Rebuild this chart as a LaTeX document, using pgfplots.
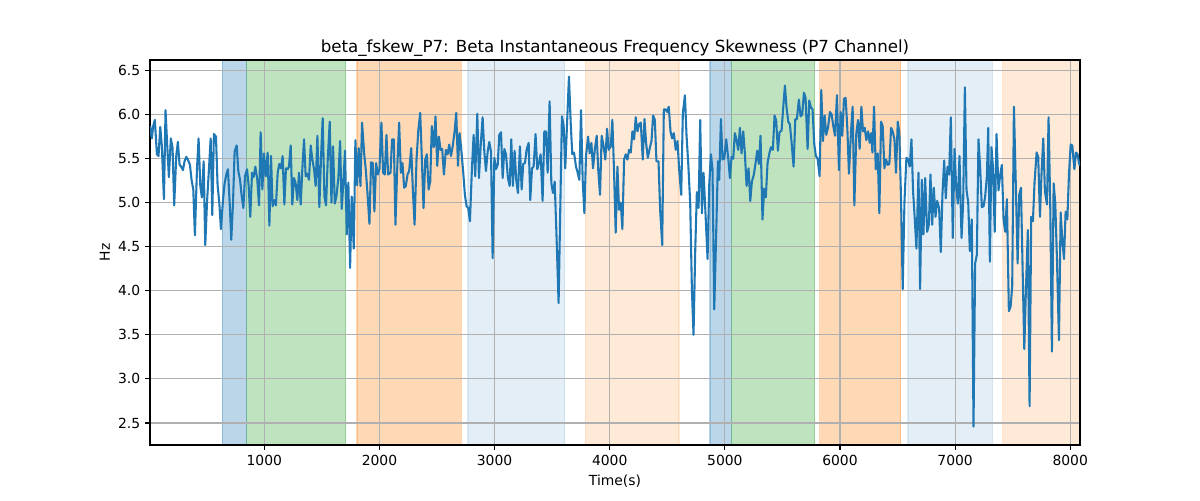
\documentclass[border=0pt]{standalone}
\usepackage{fontspec}
\setmainfont{DejaVu Sans}
\usepackage{pgfplots}
\usepackage{pgfplotstable}
\pgfplotsset{compat=1.18}
\definecolor{tabblue}{HTML}{1F77B4}
\definecolor{tabgreen}{HTML}{2CA02C}
\definecolor{taborange}{HTML}{FF7F0E}
\definecolor{gridgray}{HTML}{B0B0B0}
\pgfplotstableread{
x y
9 5.87
23 5.73
35 5.87
49 5.94
67 5.55
81 5.53
96 5.86
110 5.64
128 5.04
142 6.05
157 5.64
171 5.29
188 5.73
203 5.62
217 4.97
235 5.53
249 5.69
264 5.43
278 5.41
293 5.37
307 5.47
322 5.52
336 5.49
354 5.43
368 5.26
383 5.15
397 4.63
415 5.38
429 5.73
444 5.19
458 5.06
473 5.47
487 4.52
502 5.00
519 5.38
534 5.73
548 4.86
562 5.78
580 5.75
594 5.20
609 5.00
623 4.70
641 5.03
655 5.22
670 5.32
684 5.38
699 5.00
713 4.58
728 5.00
742 5.58
760 5.65
774 5.36
789 5.26
803 5.08
818 4.94
832 5.30
850 5.38
864 5.19
878 4.84
893 5.34
907 5.29
922 5.41
939 5.26
954 4.97
968 5.80
983 5.15
997 5.56
1012 5.30
1029 5.57
1044 4.74
1058 5.53
1072 4.96
1087 5.03
1101 4.97
1116 5.34
1130 5.44
1145 5.39
1159 5.53
1174 4.98
1188 5.39
1203 5.38
1214 5.41
1229 5.65
1243 4.98
1258 5.28
1272 5.22
1287 5.03
1301 5.34
1316 4.98
1330 5.38
1345 5.72
1359 5.30
1374 5.33
1388 5.26
1403 5.65
1417 5.49
1432 5.38
1446 5.19
1461 5.76
1478 4.95
1493 5.53
1507 5.96
1522 5.07
1536 4.97
1551 5.49
1568 5.92
1583 5.00
1597 5.64
1612 4.99
1626 5.07
1643 5.28
1658 5.70
1672 4.93
1687 5.24
1701 5.59
1716 4.64
1730 5.23
1745 4.26
1759 5.07
1777 4.48
1791 5.71
1806 5.20
1820 5.62
1835 5.19
1849 5.91
1867 5.56
1881 5.38
1896 5.11
1913 4.76
1927 5.46
1942 5.45
1956 4.90
1971 5.45
1985 5.32
2000 5.38
2017 5.91
2032 5.34
2046 5.32
2061 5.77
2075 5.32
2096 5.34
2110 5.72
2125 5.72
2139 4.75
2154 5.38
2171 5.91
2186 5.34
2200 5.45
2215 5.17
2229 5.19
2244 5.32
2258 5.36
2276 5.62
2290 5.15
2305 4.75
2322 5.49
2337 5.81
2354 6.02
2369 5.47
2383 4.94
2398 5.49
2412 5.55
2427 5.15
2441 5.24
2455 5.87
2473 5.63
2487 5.98
2502 5.42
2516 5.75
2531 5.60
2545 5.61
2560 5.32
2577 5.60
2592 5.55
2606 5.66
2621 5.53
2635 5.63
2653 5.81
2667 6.02
2682 5.42
2696 5.79
2711 5.60
2728 5.34
2742 5.09
2757 4.96
2771 4.94
2786 4.79
2803 5.38
2818 5.77
2832 5.30
2850 6.01
2864 5.28
2879 5.64
2896 5.97
2911 5.58
2925 5.36
2940 5.58
2954 5.69
2969 5.58
2983 4.37
2998 5.51
3012 5.38
3027 5.43
3041 5.77
3056 5.80
3070 5.28
3085 5.61
3099 5.55
3116 5.28
3131 5.19
3145 5.72
3159 5.19
3174 5.59
3188 5.26
3203 5.11
3220 5.64
3235 5.15
3249 5.44
3264 5.45
3278 5.60
3296 5.68
3310 5.03
3325 5.39
3339 5.41
3356 5.78
3371 5.38
3385 5.45
3400 5.55
3417 5.02
3432 5.81
3446 5.81
3461 5.34
3478 6.15
3493 5.22
3507 5.11
3522 5.24
3539 4.58
3556 3.86
3571 4.96
3585 5.98
3600 5.87
3614 5.39
3632 5.98
3646 6.43
3661 5.91
3675 5.55
3690 5.57
3707 5.41
3722 5.34
3736 5.26
3751 6.05
3765 5.26
3780 4.88
3794 5.53
3812 5.75
3826 5.56
3841 5.68
3855 5.39
3872 5.62
3887 5.76
3901 5.36
3916 5.09
3930 5.76
3945 5.66
3962 5.49
3977 5.84
3991 5.60
4009 5.64
4023 5.94
4038 5.34
4052 4.66
4067 5.41
4081 4.92
4096 5.00
4110 4.70
4125 5.49
4139 5.55
4154 5.49
4168 5.60
4183 5.57
4197 5.81
4212 5.72
4226 5.97
4241 5.81
4255 5.89
4270 5.91
4287 5.49
4302 5.95
4316 5.68
4331 5.51
4348 5.62
4363 5.70
4377 5.99
4392 5.94
4406 5.47
4424 5.47
4438 4.92
4456 4.52
4470 6.06
4485 6.06
4499 6.03
4513 6.09
4528 5.81
4542 5.73
4557 5.79
4574 5.60
4589 5.70
4603 5.38
4621 5.09
4635 6.01
4653 6.22
4667 5.77
4682 5.45
4699 5.00
4714 4.01
4728 3.50
4743 4.47
4757 5.12
4772 4.94
4786 5.94
4801 4.88
4815 5.34
4832 4.88
4850 4.36
4864 5.19
4879 5.55
4893 5.38
4908 3.79
4925 4.66
4940 5.47
4951 5.26
4966 5.95
4980 5.49
4995 5.50
5012 5.72
5030 5.50
5044 5.28
5058 5.52
5073 5.50
5087 5.79
5102 5.71
5116 5.60
5131 5.85
5145 5.56
5160 5.81
5174 5.56
5189 5.19
5206 5.39
5221 5.02
5235 5.24
5252 5.32
5267 5.45
5281 5.59
5296 5.44
5310 5.76
5327 4.81
5342 5.16
5356 5.06
5371 5.45
5385 5.55
5400 5.63
5417 5.60
5432 5.99
5446 5.93
5461 5.59
5475 5.80
5493 5.82
5507 6.08
5522 6.33
5536 6.08
5551 5.92
5565 5.89
5580 5.68
5597 5.41
5612 5.95
5626 5.95
5643 6.17
5658 5.98
5672 6.00
5687 6.25
5701 6.19
5719 5.61
5733 6.16
5748 6.08
5762 6.06
5777 5.66
5791 5.53
5806 5.50
5823 5.30
5838 6.28
5852 5.70
5867 5.99
5881 5.77
5896 5.85
5913 6.03
5928 6.00
5942 5.87
5957 5.76
5974 6.22
5991 5.37
6006 6.03
6020 5.76
6035 6.18
6049 6.19
6064 5.85
6078 5.33
6096 5.81
6110 6.09
6125 4.97
6142 5.79
6157 5.94
6171 5.61
6186 6.09
6200 5.81
6215 5.85
6229 5.71
6244 5.81
6258 5.68
6270 5.79
6282 5.57
6296 6.09
6311 5.38
6328 5.56
6342 4.88
6357 5.92
6371 5.87
6386 5.39
6400 5.49
6415 5.43
6429 5.44
6444 5.85
6458 5.81
6473 5.72
6487 5.34
6502 5.92
6516 5.79
6531 5.00
6545 4.02
6560 5.00
6577 5.51
6592 5.49
6606 5.41
6621 5.72
6635 5.13
6650 4.81
6664 4.48
6682 5.34
6696 4.02
6711 5.26
6725 4.64
6740 5.28
6757 4.67
6772 4.75
6786 5.32
6801 4.75
6815 5.17
6830 4.84
6844 5.02
6861 4.94
6876 4.44
6890 5.09
6905 5.48
6919 5.05
6934 5.41
6948 5.32
6963 5.97
6980 4.60
6995 5.61
7009 5.19
7024 4.99
7038 5.53
7056 4.60
7070 5.00
7085 6.31
7099 5.15
7114 5.00
7128 4.45
7145 4.81
7160 2.46
7174 4.31
7189 4.41
7203 5.72
7218 5.39
7232 4.95
7247 4.96
7261 5.07
7276 5.30
7288 5.85
7302 4.33
7316 5.63
7330 5.38
7344 4.67
7360 5.78
7377 5.14
7392 5.32
7406 5.43
7421 4.81
7435 4.67
7450 5.04
7467 3.77
7482 3.82
7496 4.05
7511 6.09
7528 5.17
7543 4.31
7557 5.09
7572 5.17
7586 4.28
7601 3.34
7615 4.01
7632 4.69
7647 2.69
7661 4.84
7676 4.79
7690 5.23
7708 5.57
7722 5.52
7737 4.84
7751 5.34
7766 5.73
7780 5.13
7798 4.98
7812 5.97
7827 4.92
7841 3.31
7856 5.22
7870 5.00
7885 4.35
7902 3.44
7917 4.89
7931 4.58
7946 4.36
7960 4.90
7975 4.81
7989 5.32
8004 5.66
8018 5.65
8036 5.38
8050 5.57
8064 5.55
8079 5.43
8085 5.46
}\datatable
\pgfplotsset{span/.style n args={2}{fill=#1, fill opacity=#2, draw=#1, draw opacity=#2, line width=0.8pt, mark=none, forget plot, on layer=axis background}}
\begin{document}
\begin{tikzpicture}
\path (-108pt,-39.6pt) rectangle (756pt,320.4pt);
\begin{axis}[
  set layers,
  scale only axis,
  width=669.6pt, height=277.2pt,
  xmin=7, xmax=8085, ymin=2.25, ymax=6.62,
  xtick={1000,2000,3000,4000,5000,6000,7000,8000},
  ytick={2.5,3.0,3.5,4.0,4.5,5.0,5.5,6.0,6.5},
  xtick pos=bottom, ytick pos=left,
  xticklabel style={/pgf/number format/.cd, 1000 sep={}},
  yticklabel style={/pgf/number format/.cd, fixed, fixed zerofill, precision=1},
  /pgf/number format/assume math mode=true,
  ticklabel style={font=\fontsize{10}{12}\selectfont, black},
  grid=major,
  grid style={draw=gridgray, line width=0.8pt},
  tick align=outside,
  major tick length=3.5pt,
  tick style={black, line width=0.8pt},
  axis line style={black, line width=0.8pt},
  title={beta\_fskew\_P7: Beta Instantaneous Frequency Skewness (P7 Channel)},
  title style={font=\fontsize{12}{14}\selectfont, yshift=-7pt},
  xlabel={Time(s)},
  ylabel={Hz},
  label style={font=\fontsize{10}{12}\selectfont},
  ylabel style={yshift=-1pt},
]
\addplot[span={tabblue}{0.3}] coordinates {(633,2.25) (849,2.25) (849,6.62) (633,6.62) (633,2.25)};
\addplot[span={tabgreen}{0.3}] coordinates {(849,2.25) (1708,2.25) (1708,6.62) (849,6.62) (849,2.25)};
\addplot[span={taborange}{0.3}] coordinates {(1805,2.25) (2709,2.25) (2709,6.62) (1805,6.62) (1805,2.25)};
\addplot[span={tabblue}{0.12}] coordinates {(2769,2.25) (3610,2.25) (3610,6.62) (2769,6.62) (2769,2.25)};
\addplot[span={taborange}{0.16}] coordinates {(3788,2.25) (4602,2.25) (4602,6.62) (3788,6.62) (3788,2.25)};
\addplot[span={tabblue}{0.3}] coordinates {(4871,2.25) (5057,2.25) (5057,6.62) (4871,6.62) (4871,2.25)};
\addplot[span={tabgreen}{0.3}] coordinates {(5057,2.25) (5781,2.25) (5781,6.62) (5057,6.62) (5057,2.25)};
\addplot[span={taborange}{0.3}] coordinates {(5826,2.25) (6528,2.25) (6528,6.62) (5826,6.62) (5826,2.25)};
\addplot[span={tabblue}{0.12}] coordinates {(6591,2.25) (7327,2.25) (7327,6.62) (6591,6.62) (6591,2.25)};
\addplot[span={taborange}{0.16}] coordinates {(7413,2.25) (8085,2.25) (8085,6.62) (7413,6.62) (7413,2.25)};
\addplot[tabblue, line width=1.5pt, line join=round, mark=none] table[x=x, y=y] {\datatable};
\end{axis}
\end{tikzpicture}
\end{document}
